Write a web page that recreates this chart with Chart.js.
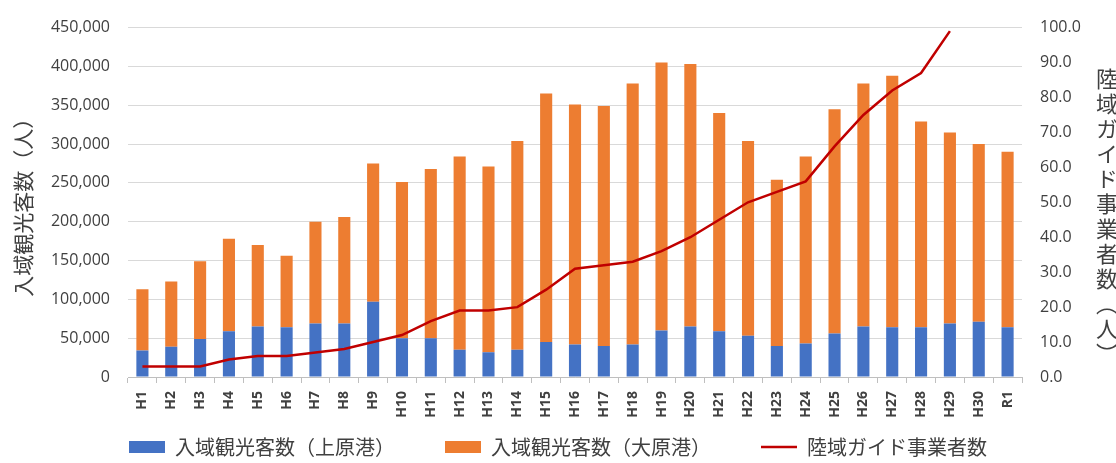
<!DOCTYPE html>
<html lang="ja">
<head>
<meta charset="utf-8">
<script src="https://cdn.jsdelivr.net/npm/chart.js@4.4.1/dist/chart.umd.min.js"></script>
<style>
  html, body { margin: 0; padding: 0; background: #fff; }
  #wrap { position: relative; width: 1116px; height: 463px; }
  #rightTitle {
    position: absolute; left: 1091px; top: 68px;
    writing-mode: vertical-rl;
    font: 22px "Noto Sans CJK JP"; color: #404040; letter-spacing: 3px;
  }
</style>
</head>
<body>
<div id="wrap">
  <canvas id="visitorsChart" width="1116" height="463"></canvas>
  <div id="rightTitle">陸域ガイド事業者数（人）</div>
</div>
<script>
const years = ['H1', 'H2', 'H3', 'H4', 'H5', 'H6', 'H7', 'H8', 'H9', 'H10',
    'H11', 'H12', 'H13', 'H14', 'H15', 'H16', 'H17', 'H18', 'H19', 'H20',
    'H21', 'H22', 'H23', 'H24', 'H25', 'H26', 'H27', 'H28', 'H29', 'H30', 'R1'];

// 入域観光客数（上原港）
const uehara = [34000, 39000, 49000, 59000, 65000, 64000, 69000, 69000, 97000, 50000,
    50000, 35000, 32000, 35000, 45000, 42000, 40000, 42000, 60000, 65000,
    59000, 53000, 40000, 43000, 56000, 65000, 64000, 64000, 69000, 71000, 64000];

// 入域観光客数（大原港）
const ohara = [79000, 84000, 100000, 119000, 105000, 92000, 131000, 137000, 178000, 201000,
    218000, 249000, 239000, 269000, 320000, 309000, 309000, 336000, 345000, 338000,
    281000, 251000, 214000, 241000, 289000, 313000, 324000, 265000, 246000, 229000, 226000];

// 陸域ガイド事業者数
const guides = [3, 3, 3, 5, 6, 6, 7, 8, 10, 12,
    16, 19, 19, 20, 25, 31, 32, 33, 36, 40,
    45, 50, 53, 56, 66, 75, 82, 87, 99, null, null];

const textColor = '#404040';
const numFont = { family: '"Open Sans", "Noto Sans", sans-serif', size: 16 };
const jpFont = '"Noto Sans CJK JP", sans-serif';

function drawChart() {
    const ctx = document.getElementById('visitorsChart').getContext('2d');
    new Chart(ctx, {
        type: 'bar',
        data: {
            labels: years,
            datasets: [{
                label: '入域観光客数（上原港）',
                data: uehara,
                backgroundColor: '#4472C4',
                yAxisID: 'y',
                stack: 'visitors',
                pointStyle: 'rect',
                order: 2
            }, {
                label: '入域観光客数（大原港）',
                data: ohara,
                backgroundColor: '#ED7D31',
                yAxisID: 'y',
                stack: 'visitors',
                pointStyle: 'rect',
                order: 2
            }, {
                type: 'line',
                label: '陸域ガイド事業者数',
                data: guides,
                borderColor: '#C00000',
                backgroundColor: '#C00000',
                borderWidth: 2.5,
                pointRadius: 0,
                pointStyle: 'line',
                tension: 0,
                yAxisID: 'y1',
                order: 1
            }]
        },
        options: {
            responsive: false,
            animation: false,
            layout: { padding: { top: 14, left: 0, right: 0, bottom: -4 } },
            datasets: {
                bar: { categoryPercentage: 1, barPercentage: 0.42 }
            },
            scales: {
                x: {
                    stacked: true,
                    grid: { display: true, drawOnChartArea: false, offset: true, color: '#BFBFBF', tickLength: 6 },
                    border: { color: '#BFBFBF' },
                    ticks: {
                        color: textColor,
                        font: { family: '"Open Sans", sans-serif', size: 14, weight: 'bold' },
                        minRotation: 90, maxRotation: 90, padding: 8
                    },
                    afterFit: (scale) => { scale.height = 40; }
                },
                y: {
                    stacked: true,
                    position: 'left',
                    min: 0, max: 450000,
                    ticks: {
                        stepSize: 50000,
                        color: textColor,
                        font: numFont,
                        padding: 18,
                        callback: (v) => v.toLocaleString('en-US')
                    },
                    grid: { color: '#D9D9D9', drawTicks: false },
                    border: { display: false },
                    title: {
                        display: true,
                        text: '入域観光客数（人）',
                        color: textColor,
                        font: { family: jpFont, size: 21 },
                        padding: { top: 10, bottom: 0 }
                    },
                    afterFit: (scale) => { scale.width = 128; }
                },
                y1: {
                    position: 'right',
                    min: 0, max: 100,
                    ticks: {
                        stepSize: 10,
                        color: textColor,
                        font: numFont,
                        padding: 18,
                        callback: (v) => v.toFixed(1)
                    },
                    grid: { display: false, drawTicks: false },
                    border: { display: false },
                    afterFit: (scale) => { scale.width = 94; }
                }
            },
            plugins: {
                legend: {
                    position: 'bottom',
                    labels: {
                        usePointStyle: true,
                        pointStyleWidth: 36,
                        boxHeight: 12,
                        padding: 20,
                        color: textColor,
                        font: { family: jpFont, size: 20 },
                        sort: (a, b) => a.datasetIndex - b.datasetIndex,
                        // widen the gap after the first two entries
                        generateLabels: (chart) => Chart.defaults.plugins.legend.labels.generateLabels(chart)
                            .map((item) => item.datasetIndex < 2 ? { ...item, text: item.text + '\u3000\u3000' } : item)
                    }
                },
                tooltip: { enabled: false }
            }
        }
    });
}
drawChart();
</script>
</body>
</html>
